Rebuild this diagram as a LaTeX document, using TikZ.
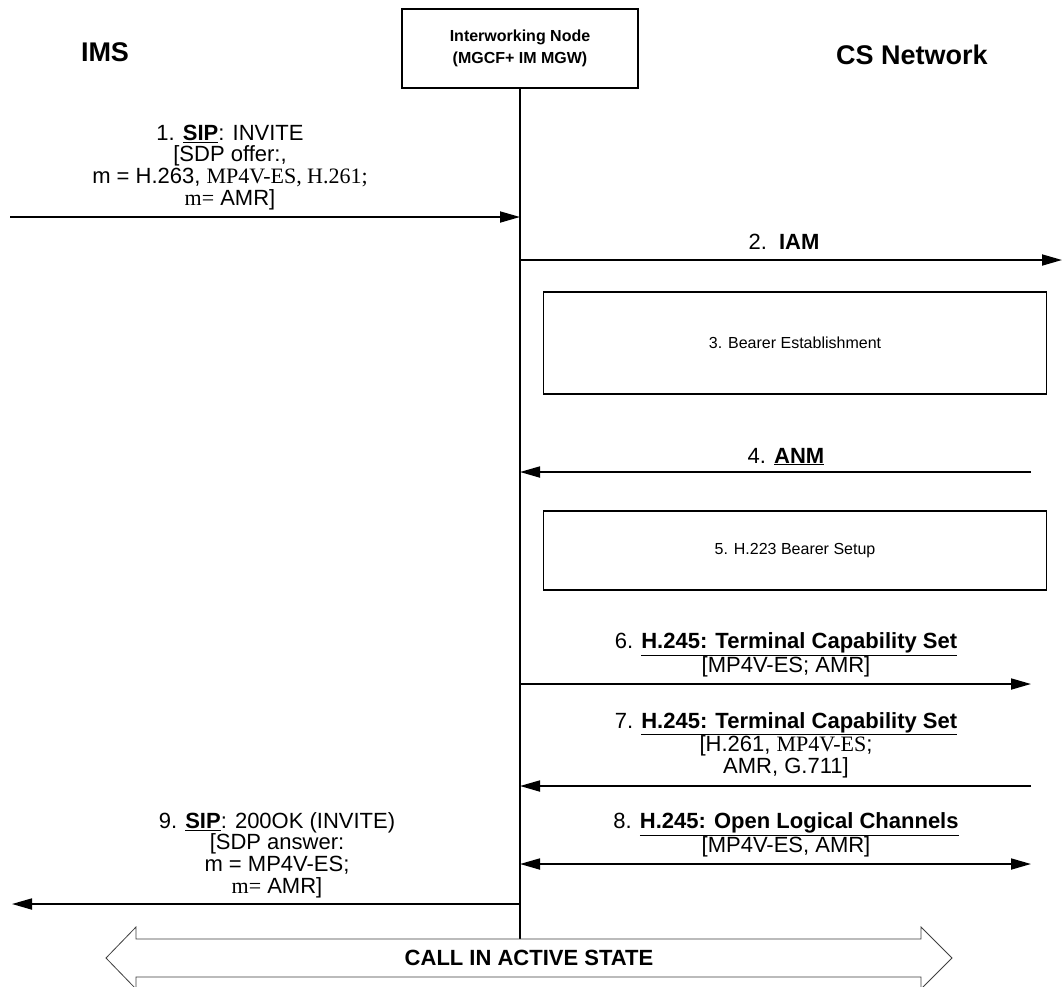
\documentclass[tikz,border=0pt]{standalone}
\usepackage{fontspec}
\setmainfont{Liberation Sans}
\newfontfamily\tms{Liberation Serif}
\usetikzlibrary{arrows.meta}
\begin{document}
\begin{tikzpicture}[x=1pt,y=-1pt,
  tip/.tip={Triangle[length=20pt,width=11pt]},
  msg/.style={line width=1.8pt,-tip},
  dmsg/.style={line width=1.8pt,tip-tip},
  lbl/.style={font=\fontsize{22}{21.7}\selectfont,align=center,inner sep=0pt,anchor=south},
  lbl1/.style={font=\fontsize{22}{22}\selectfont,inner sep=0pt,anchor=base},
  procbox/.style={draw,line width=1.8pt,minimum width=503pt,inner sep=0pt,font=\fontsize{16}{18}\selectfont},
  side/.style={font=\fontsize{27}{30}\selectfont\bfseries,inner sep=0pt}]
\useasboundingbox (0,0) rectangle (1063,986);
\fill[white] (0,0) rectangle (1063,986);

% headings
\node[side] (ims) at (105,52) {IMS};
\node[side] (cs) at (912,55) {CS Network};
\node[draw,line width=1.8pt,minimum width=236pt,minimum height=79pt,inner sep=0pt,align=center,
      font=\fontsize{16}{22}\selectfont\bfseries] (iw) at (520,48.5) {Interworking Node\\(MGCF+ IM MGW)};

% lifeline
\coordinate (lend) at (520,939);
\draw[line width=1.8pt] (iw.south) -- (lend);

% 1
\coordinate (m1s) at (10,217); \coordinate (m1e) at (520,217);
\draw[msg] (m1s) -- (m1e);
\node[lbl] (l1) at (230,210) {1. \underline{\textbf{SIP}}: INVITE\\{[}SDP offer:,\\m = H.263, {\tms MP4V-ES, H.261;}\\{\tms m=} AMR]};

% 2
\coordinate (m2s) at (520,260); \coordinate (m2e) at (1062,260);
\draw[msg] (m2s) -- (m2e);
\node[lbl1] (l2) at (784,249) {2.\ \ \textbf{IAM}};

% 3
\node[procbox,minimum height=102pt] (b3) at (795,343) {3. Bearer Establishment};

% 4
\coordinate (m4s) at (1031,472); \coordinate (m4e) at (520,472);
\draw[msg] (m4s) -- (m4e);
\node[lbl1] (l4) at (786,463) {4. \underline{\textbf{ANM}}};

% 5
\node[procbox,minimum height=79pt] (b5) at (795,550.5) {5. H.223 Bearer Setup};

% 6
\coordinate (m6s) at (520,684); \coordinate (m6e) at (1031,684);
\draw[msg] (m6s) -- (m6e);
\node[lbl] (l6) at (786,677) {6. \underline{\textbf{H.245: Terminal Capability Set}}\\{[}MP4V-ES; AMR]};

% 7
\coordinate (m7s) at (1031,786); \coordinate (m7e) at (520,786);
\draw[msg] (m7s) -- (m7e);
\node[lbl] (l7) at (786,778) {7. \underline{\textbf{H.245: Terminal Capability Set}}\\{[}H.261, {\tms MP4V-ES};\\AMR, G.711]};

% 8
\coordinate (m8s) at (520,864); \coordinate (m8e) at (1031,864);
\draw[dmsg] (m8s) -- (m8e);
\node[lbl] (l8) at (786,857) {8. \underline{\textbf{H.245: Open Logical Channels}}\\{[}MP4V-ES, AMR]};

% 9
\coordinate (m9s) at (520,904); \coordinate (m9e) at (12,904);
\draw[msg] (m9s) -- (m9e);
\node[lbl] (l9) at (277,898) {9. \underline{\textbf{SIP}}: 200OK (INVITE)\\{[}SDP answer:\\m = MP4V-ES;\\{\tms m=} AMR]};

% call state
\draw[line width=0.8pt,draw=black!75,fill=white]
  (106,958) -- (136,927) -- (136,939) -- (921,939) -- (921,927) -- (952,958)
  -- (921,989) -- (921,977) -- (136,977) -- (136,989) -- cycle;
\node[font=\fontsize{22}{24}\selectfont\bfseries,inner sep=0pt] (call) at (529,958) {CALL IN ACTIVE STATE};
\end{tikzpicture}
\end{document}
